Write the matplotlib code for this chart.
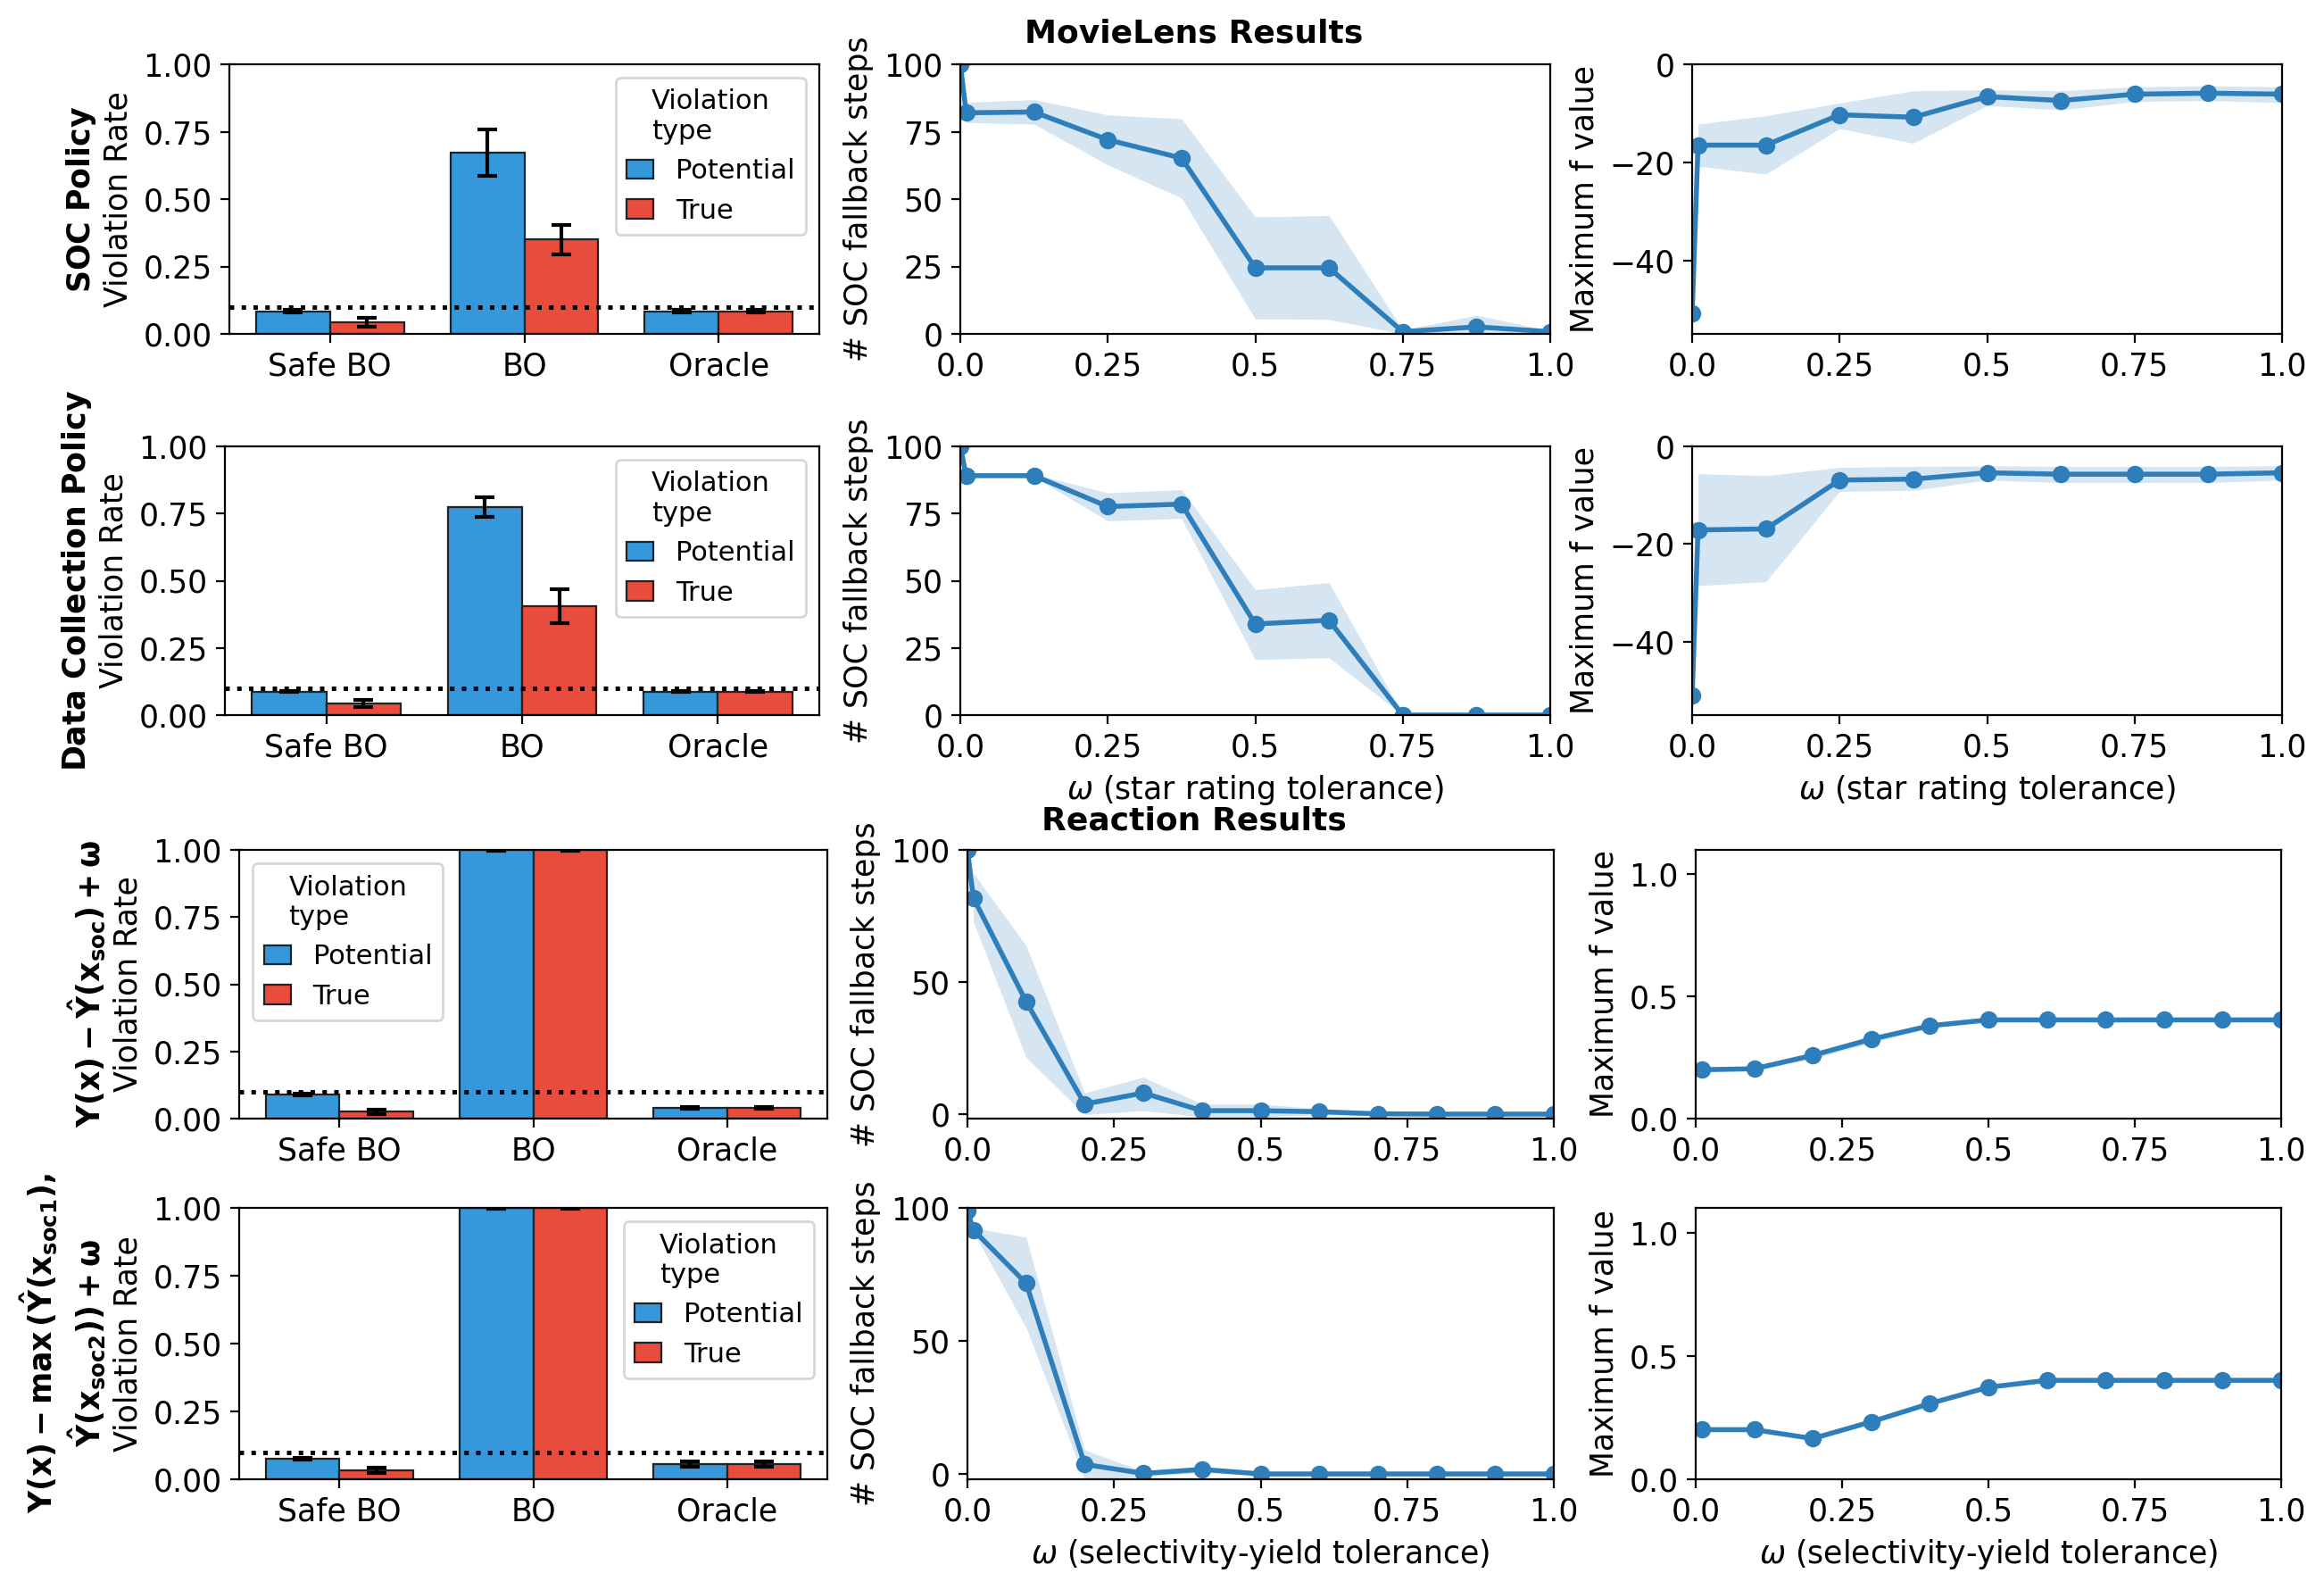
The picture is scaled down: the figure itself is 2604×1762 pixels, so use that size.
import matplotlib
matplotlib.use("Agg")
import matplotlib.pyplot as plt
import numpy as np

plt.rcParams['font.size'] = 12.5

# ---- bar chart data (violation rates) ----
methods = ["Safe BO", "BO", "Oracle"]

soc_pot = [0.084, 0.672, 0.084]
soc_pot_err = [0.004, 0.086, 0.004]
soc_true = [0.043, 0.350, 0.084]
soc_true_err = [0.017, 0.055, 0.004]

dc_pot = [0.088, 0.774, 0.088]
dc_pot_err = [0.003, 0.036, 0.002]
dc_true = [0.043, 0.404, 0.088]
dc_true_err = [0.012, 0.063, 0.002]

r1_pot = [0.090, 1.0, 0.040]
r1_pot_err = [0.003, 0.002, 0.002]
r1_true = [0.025, 1.0, 0.040]
r1_true_err = [0.008, 0.002, 0.002]

r2_pot = [0.077, 1.0, 0.056]
r2_pot_err = [0.003, 0.002, 0.010]
r2_true = [0.033, 1.0, 0.056]
r2_true_err = [0.011, 0.002, 0.010]

# ---- MovieLens tolerance sweeps ----
omega_ml = [0, 0.01, 0.125, 0.25, 0.375, 0.5, 0.625, 0.75, 0.875, 1.0]

soc_steps = [100, 82, 82.3, 72, 65.2, 24.5, 24.5, 0.8, 2.6, 0.8]
soc_steps_lo = [np.nan, 78.4, 77.8, 62.7, 50.4, 5.6, 5.4, 0, 0, 0]
soc_steps_hi = [np.nan, 85.9, 86.9, 81.2, 79.8, 43.4, 43.9, 1.5, 6.9, 1.2]

soc_f = [-50.8, -16.5, -16.5, -10.3, -10.8, -6.6, -7.4, -6.1, -5.9, -6.1]
soc_f_lo = [np.nan, -20.8, -22.4, -13.1, -16.1, -8.4, -9.3, -7.6, -7.4, -7.8]
soc_f_hi = [np.nan, -12.2, -10.5, -7.9, -5.4, -5.2, -5.4, -4.6, -4.4, -4.6]

dc_steps = [100, 89.1, 89.1, 77.6, 78.5, 33.9, 35.3, 0, 0, 0]
dc_steps_lo = [np.nan, 88.6, 88.6, 72.3, 73.2, 20.7, 21.3, 0, 0, 0]
dc_steps_hi = [np.nan, 89.6, 89.7, 82.7, 83.9, 46.7, 49.3, 0.3, 0.3, 0.3]

dc_f = [-50.9, -17.1, -16.9, -6.9, -6.7, -5.4, -5.7, -5.7, -5.7, -5.4]
dc_f_lo = [np.nan, -28.5, -27.7, -9.2, -9.0, -6.9, -7.4, -7.4, -7.4, -6.9]
dc_f_hi = [np.nan, -5.6, -6.0, -4.3, -4.1, -4.0, -4.1, -4.1, -4.1, -4.0]

# ---- Reaction tolerance sweeps ----
omega_rx = [0, 0.01, 0.1, 0.2, 0.3, 0.4, 0.5, 0.6, 0.7, 0.8, 0.9, 1.0]

r1_steps = [100, 81.9, 42.6, 3.8, 8.0, 1.3, 1.3, 0.9, 0.1, 0, 0, 0]
r1_steps_lo = [np.nan, 72.9, 21.5, -0.2, 1.3, -1.0, -1.0, -0.2, -0.5, -0.5, -0.5, -0.5]
r1_steps_hi = [np.nan, 91.2, 63.8, 8.0, 14.0, 3.8, 3.8, 2.0, 0.8, 0.5, 0.5, 0.5]

r2_steps = [99, 91.7, 71.7, 3.6, 0.2, 1.7, 0, 0, 0, 0, 0, 0]
r2_steps_lo = [np.nan, 91.0, 55.0, -2.0, -1.0, 0.5, -0.3, -0.3, -0.3, -0.3, -0.3, -0.3]
r2_steps_hi = [np.nan, 92.5, 89.0, 9.0, 1.0, 2.8, 0.3, 0.3, 0.3, 0.3, 0.3, 0.3]

omega_rx_f = [0.01, 0.1, 0.2, 0.3, 0.4, 0.5, 0.6, 0.7, 0.8, 0.9, 1.0]

r1_f = [0.200, 0.204, 0.259, 0.325, 0.380, 0.404, 0.404, 0.404, 0.404, 0.404, 0.404]
r1_f_lo = [0.195, 0.198, 0.245, 0.310, 0.372, 0.400, 0.400, 0.400, 0.400, 0.400, 0.400]
r1_f_hi = [0.205, 0.210, 0.272, 0.340, 0.388, 0.408, 0.408, 0.408, 0.408, 0.408, 0.408]

r2_f = [0.201, 0.201, 0.165, 0.233, 0.307, 0.373, 0.401, 0.401, 0.401, 0.401, 0.401]
r2_f_lo = [0.198, 0.198, 0.160, 0.228, 0.301, 0.368, 0.398, 0.398, 0.398, 0.398, 0.398]
r2_f_hi = [0.204, 0.204, 0.170, 0.238, 0.313, 0.378, 0.404, 0.404, 0.404, 0.404, 0.404]

BLUE = "#3498db"
RED = "#e74c3c"
LINE = "#2e7ebb"

W, H = 2604, 1762


def rect(left, right, top, bottom):
    """ Converts pixel box of the reference into figure fractions """
    return [left / W, 1 - bottom / H, (right - left) / W, (bottom - top) / H]


def bar_panel(ax, pot, pot_err, true, true_err, label, loc):
    x = np.arange(len(methods))
    err_kw = dict(elinewidth=1.5, capthick=1.5)
    ax.bar(x - 0.19, pot, 0.38, yerr=pot_err, color=BLUE, edgecolor="#222222",
           linewidth=0.8, capsize=4, error_kw=err_kw, label="Potential")
    ax.bar(x + 0.19, true, 0.38, yerr=true_err, color=RED, edgecolor="#222222",
           linewidth=0.8, capsize=4, error_kw=err_kw, label="True")
    ax.axhline(0.1, color="black", linestyle=":", linewidth=1.8)
    ax.set_ylim(0, 1)
    ax.set_xticks(x, methods)
    ax.set_ylabel(label)
    leg = ax.legend(title="Violation\ntype", loc=loc, fontsize=11, title_fontsize=11,
                    handlelength=1.0)
    leg.get_title().set_multialignment("left")


def line_panel(ax, x, y, lo, hi):
    ax.fill_between(x, lo, hi, color=LINE, alpha=0.2, linewidth=0)
    ax.plot(x, y, "o-", color=LINE, linewidth=2, markersize=6)
    ax.set_xlim(0, 1)
    ax.set_xticks([0, 0.25, 0.5, 0.75, 1.0], ["0.0", "0.25", "0.5", "0.75", "1.0"])


fig = plt.figure(figsize=(W / 200, H / 200), dpi=200)

# MovieLens block
ax = fig.add_axes(rect(257, 918, 72, 374))
bar_panel(ax, soc_pot, soc_pot_err, soc_true, soc_true_err,
          r"$\bf{SOC\ Policy}$" + "\nViolation Rate", "upper right")
ax = fig.add_axes(rect(252, 918, 500, 801))
bar_panel(ax, dc_pot, dc_pot_err, dc_true, dc_true_err,
          r"$\bf{Data\ Collection\ Policy}$" + "\nViolation Rate", "upper right")

ax = fig.add_axes(rect(1076, 1737, 72, 374))
line_panel(ax, omega_ml, soc_steps, soc_steps_lo, soc_steps_hi)
ax.set_ylim(0, 100)
ax.set_yticks([0, 25, 50, 75, 100])
ax.set_ylabel("# SOC fallback steps")

ax = fig.add_axes(rect(1076, 1737, 500, 801))
line_panel(ax, omega_ml, dc_steps, dc_steps_lo, dc_steps_hi)
ax.set_ylim(0, 100)
ax.set_yticks([0, 25, 50, 75, 100])
ax.set_ylabel("# SOC fallback steps")
ax.set_xlabel(r"$\omega$ (star rating tolerance)")

ax = fig.add_axes(rect(1896, 2557, 72, 374))
line_panel(ax, omega_ml, soc_f, soc_f_lo, soc_f_hi)
ax.set_ylim(-55, 0)
ax.set_yticks([-40, -20, 0])
ax.set_ylabel("Maximum f value")

ax = fig.add_axes(rect(1896, 2557, 500, 801))
line_panel(ax, omega_ml, dc_f, dc_f_lo, dc_f_hi)
ax.set_ylim(-55, 0)
ax.set_yticks([-40, -20, 0])
ax.set_ylabel("Maximum f value")
ax.set_xlabel(r"$\omega$ (star rating tolerance)")

# Reaction block
ax = fig.add_axes(rect(268, 927, 952, 1253))
bar_panel(ax, r1_pot, r1_pot_err, r1_true, r1_true_err,
          r"$\mathbf{Y(x) - \hat{Y}(x_{soc}) + \omega}$" + "\nViolation Rate", "upper left")
ax = fig.add_axes(rect(268, 927, 1353, 1657))
bar_panel(ax, r2_pot, r2_pot_err, r2_true, r2_true_err,
          r"$\mathbf{Y(x) - max\,(\hat{Y}(x_{soc1}),}$" + "\n"
          + r"$\mathbf{\hat{Y}(x_{soc2})) + \omega}$" + "\nViolation Rate", "upper right")

ax = fig.add_axes(rect(1084, 1741, 952, 1253))
line_panel(ax, omega_rx, r1_steps, r1_steps_lo, r1_steps_hi)
ax.set_ylim(-1.7, 100)
ax.set_yticks([0, 50, 100])
ax.set_ylabel("# SOC fallback steps")

ax = fig.add_axes(rect(1084, 1741, 1353, 1657))
line_panel(ax, omega_rx, r2_steps, r2_steps_lo, r2_steps_hi)
ax.set_ylim(-2, 100)
ax.set_yticks([0, 50, 100])
ax.set_ylabel("# SOC fallback steps")
ax.set_xlabel(r"$\omega$ (selectivity-yield tolerance)")

ax = fig.add_axes(rect(1900, 2556, 952, 1253))
line_panel(ax, omega_rx_f, r1_f, r1_f_lo, r1_f_hi)
ax.set_ylim(0, 1.1)
ax.set_yticks([0, 0.5, 1.0])
ax.set_ylabel("Maximum f value")

ax = fig.add_axes(rect(1900, 2556, 1353, 1657))
line_panel(ax, omega_rx_f, r2_f, r2_f_lo, r2_f_hi)
ax.set_ylim(0, 1.1)
ax.set_yticks([0, 0.5, 1.0])
ax.set_ylabel("Maximum f value")
ax.set_xlabel(r"$\omega$ (selectivity-yield tolerance)")

fig.text(1338 / W, 1 - 37 / H, "MovieLens Results", ha="center", va="center",
         fontsize=13, fontweight="bold")
fig.text(1338 / W, 1 - 919 / H, "Reaction Results", ha="center", va="center",
         fontsize=13, fontweight="bold")

fig.savefig("out.png", dpi=200)
